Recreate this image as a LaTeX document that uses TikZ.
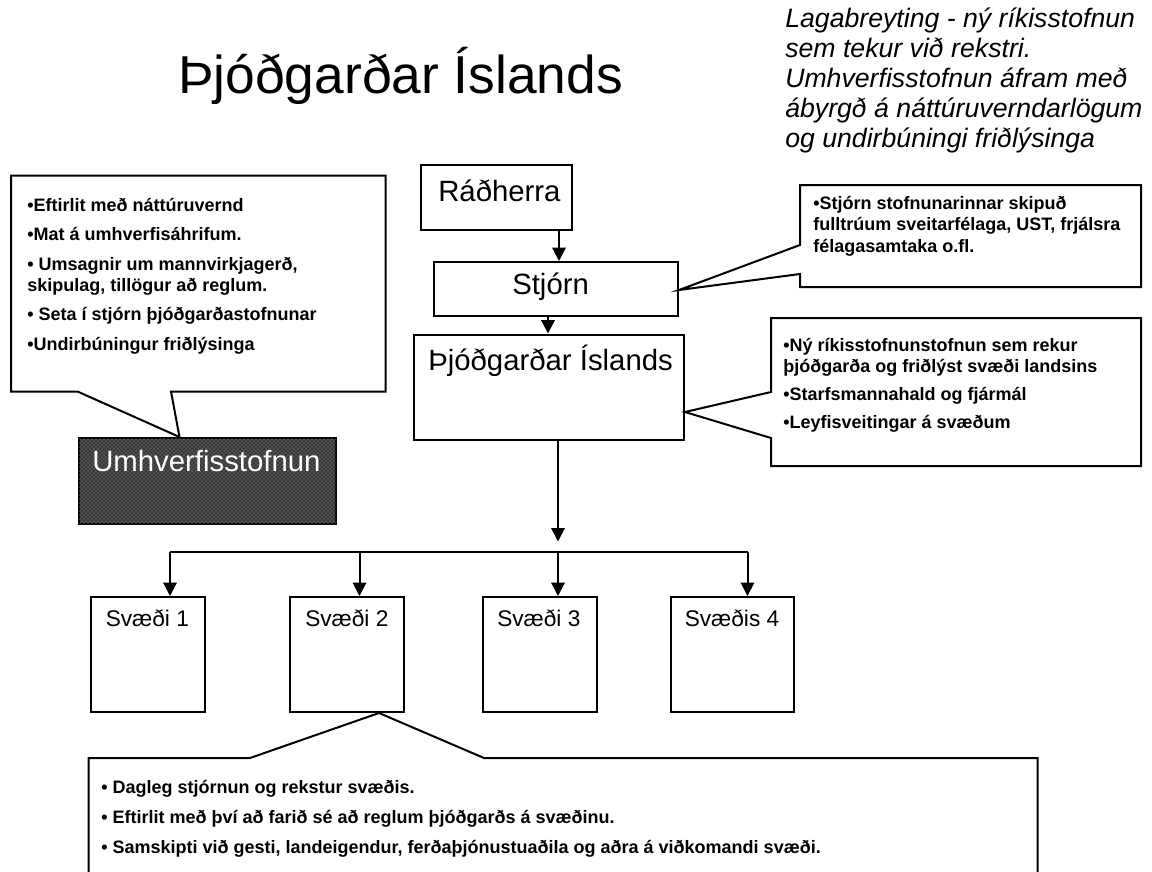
\documentclass[tikz,border=0pt]{standalone}
\usepackage{fontspec}
\setmainfont{Liberation Sans}
\usetikzlibrary{arrows.meta,fit,patterns}

\tikzset{
  box/.style={draw, line width=1.5pt, inner sep=0pt},
  boxtext/.style={anchor=base west, inner sep=0pt, font=\fontsize{22}{26}\selectfont},
  areatext/.style={anchor=base west, inner sep=0pt, font=\fontsize{17}{20}\selectfont},
  notetext/.style={anchor=north west, inner sep=0pt, align=left, font=\bfseries\fontsize{13.5}{16}\selectfont},
  callout/.style={draw, line width=1.5pt, fill=white},
  arr/.style={-{Triangle[length=10pt,width=10pt]}, line width=1.5pt},
}

\begin{document}
\begin{tikzpicture}[x=0.75pt,y=0.75pt,yscale=-1]
\useasboundingbox (0,0) rectangle (1152,871);

% Text Node
\node[anchor=base west, inner sep=0pt, font=\fontsize{40}{48}\selectfont] (title) at (178,93) {Þjóðgarðar Íslands};
% Text Node
\node[anchor=north west, inner sep=0pt, align=left, font=\itshape\fontsize{20}{22.5}\selectfont] (lawnote) at (785,8)
  {Lagabreyting - ný ríkisstofnun\\sem tekur við rekstri.\\Umhverfisstofnun áfram með\\ábyrgð á náttúruverndarlögum\\og undirbúningi friðlýsinga};

%Shape: Rectangle
\node[box, fit={(421,165) (572,230)}] (minister) {};
\node[boxtext] (ministertxt) at (438,201) {Ráðherra};
%Shape: Rectangle
\node[box, fit={(433.5,262) (678,315.5)}] (board) {};
\node[boxtext] (boardtxt) at (512,294) {Stjórn};
%Shape: Rectangle
\node[box, fit={(413.5,334.5) (684,440)}] (park) {};
\node[boxtext] (parktxt) at (428,370) {Þjóðgarðar Íslands};
%Shape: Rectangle
\node[box, fill=black!78, postaction={pattern=crosshatch dots, pattern color=black!35}, fit={(79,438) (336,524)}] (ust) {};
\node[boxtext, text=white] (usttxt) at (92,471) {Umhverfisstofnun};

%Shape: Rectangle
\node[box, fit={(91,597) (204.5,712)}] (area1) {};
\node[areatext] (area1txt) at (105.5,626) {Svæði 1};
\node[box, fit={(290,597) (404,712)}] (area2) {};
\node[areatext] (area2txt) at (305,626) {Svæði 2};
\node[box, fit={(483,597) (597,712)}] (area3) {};
\node[areatext] (area3txt) at (497,626) {Svæði 3};
\node[box, fit={(670.5,597) (794,712)}] (area4) {};
\node[areatext] (area4txt) at (684.5,626) {Svæðis 4};

%Straight Lines
\coordinate (xa) at (559,0);
\coordinate (xb) at (548,0);
\coordinate (xc) at (558,0);
\draw[arr] (minister.south -| xa) -- (board.north -| xa);
\draw[arr] (board.south -| xb) -- (park.north -| xb);
\coordinate (split) at (558,541.5);
\draw[arr] (park.south -| xc) -- (split);
\coordinate (bus1) at (170,551.5);
\coordinate (bus2) at (359.5,551.5);
\coordinate (bus3) at (558,551.5);
\coordinate (bus4) at (747.5,551.5);
\draw[line width=1.5pt] (bus1) -- (bus4);
\foreach \i in {1,...,4}
  \draw[arr] (bus\i) -- (area\i.north -| bus\i);

%Shape: Callout
\draw[callout] (11,175.5) -- (385.5,175.5) -- (385.5,391.5) -- (171,391.5) -- (ust.north -| 179.5,0) -- (77.5,391.5) -- (11,391.5) -- cycle;
\node[notetext] (ustnote) at (27,198)
  {•Eftirlit með náttúruvernd\\[6pt]•Mat á umhverfisáhrifum.\\[6pt]• Umsagnir um mannvirkjagerð,\\skipulag, tillögur að reglum.\\[6pt]• Seta í stjórn þjóðgarðastofnunar\\[6pt]•Undirbúningur friðlýsinga};

%Shape: Callout
\draw[callout] (800,185) -- (1141,185) -- (1141,287) -- (800,287) -- (800,274) -- (board.east |- 0,290) -- (800,245) -- cycle;
\node[notetext] (boardnote) at (813,196)
  {•Stjórn stofnunarinnar skipuð\\fulltrúum sveitarfélaga, UST, frjálsra\\félagasamtaka o.fl.};

%Shape: Callout
\draw[callout] (771,318) -- (1141,318) -- (1141,466) -- (771,466) -- (771,438) -- (park.east |- 0,412) -- (771,392) -- cycle;
\node[notetext] (parknote) at (783,338)
  {•Ný ríkisstofnunstofnun sem rekur\\þjóðgarða og friðlýst svæði landsins\\[5pt]•Starfsmannahald og fjármál\\[5pt]•Leyfisveitingar á svæðum};

%Shape: Callout
\draw[callout] (88.5,758) -- (250,758) -- (area2.south -| 379,0) -- (484,758) -- (1037.5,758) -- (1037.5,890) -- (88.5,890) -- cycle;
\node[notetext] (areanote) at (101,780)
  {• Dagleg stjórnun og rekstur svæðis.\\[6.5pt]• Eftirlit með því að farið sé að reglum þjóðgarðs á svæðinu.\\[6.5pt]• Samskipti við gesti, landeigendur, ferðaþjónustuaðila og aðra á viðkomandi svæði.};

\end{tikzpicture}
\end{document}
